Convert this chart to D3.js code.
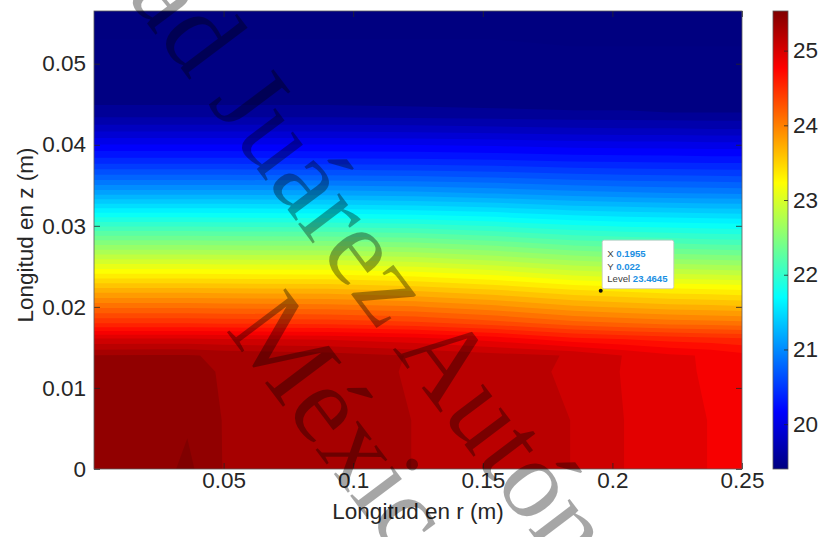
<!DOCTYPE html>
<html>
<head>
<meta charset="utf-8">
<script src="https://cdn.jsdelivr.net/npm/d3@7"></script>
<style>
body { margin: 0; background: #fff; }
svg { display: block; }
text { font-family: "Liberation Sans", Arial, sans-serif; fill: #262626; }
</style>
</head>
<body>
<script>
// grid of the temperature field
var rGrid = [0, 0.025, 0.036, 0.05, 0.09, 0.124, 0.155, 0.185, 0.205, 0.222, 0.238, 0.25];
var zGrid = [0, 0.006, 0.012, 0.014, 0.016, 0.018, 0.020, 0.022, 0.024, 0.026, 0.028,
	0.030, 0.032, 0.034, 0.036, 0.038, 0.040, 0.042, 0.044, 0.047, 0.0565];
// one row per z, one value per r
var temp = [
	[25.47, 25.50, 25.58, 25.42, 25.37, 25.30, 25.24, 25.178, 25.055, 24.99, 24.93, 24.87],
	[25.47, 25.50, 25.53, 25.42, 25.37, 25.30, 25.24, 25.178, 25.055, 24.99, 24.93, 24.87],
	[25.46, 25.48, 25.48, 25.41, 25.36, 25.29, 25.22, 25.165, 25.045, 24.975, 24.915, 24.86],
	[25.43, 25.44, 25.44, 25.40, 25.36, 25.295, 25.23, 25.17, 25.05, 24.96, 24.92, 24.85],
	[25.08, 25.08, 25.08, 25.07, 25.05, 24.99, 24.89, 24.74, 24.69, 24.65, 24.62, 24.60],
	[24.56, 24.56, 24.56, 24.55, 24.53, 24.48, 24.38, 24.25, 24.20, 24.16, 24.14, 24.12],
	[24.17, 24.17, 24.17, 24.16, 24.14, 24.09, 23.99, 23.86, 23.81, 23.77, 23.75, 23.73],
	[23.78, 23.78, 23.78, 23.77, 23.76, 23.70, 23.61, 23.49, 23.44, 23.40, 23.38, 23.36],
	[23.36, 23.36, 23.36, 23.35, 23.34, 23.29, 23.20, 23.07, 23.02, 22.99, 22.97, 22.95],
	[22.95, 22.95, 22.95, 22.94, 22.93, 22.88, 22.79, 22.67, 22.62, 22.59, 22.57, 22.55],
	[22.53, 22.53, 22.53, 22.52, 22.51, 22.47, 22.39, 22.28, 22.24, 22.21, 22.18, 22.17],
	[22.10, 22.10, 22.10, 22.09, 22.08, 22.05, 21.98, 21.89, 21.85, 21.83, 21.81, 21.80],
	[21.66, 21.66, 21.66, 21.66, 21.64, 21.61, 21.56, 21.48, 21.45, 21.43, 21.41, 21.40],
	[21.22, 21.22, 21.22, 21.22, 21.21, 21.18, 21.13, 21.07, 21.04, 21.02, 21.01, 21.00],
	[20.82, 20.82, 20.82, 20.82, 20.81, 20.79, 20.76, 20.71, 20.69, 20.68, 20.67, 20.66],
	[20.46, 20.46, 20.46, 20.46, 20.45, 20.44, 20.42, 20.39, 20.38, 20.37, 20.36, 20.36],
	[20.16, 20.16, 20.16, 20.16, 20.16, 20.15, 20.13, 20.10, 20.09, 20.09, 20.08, 20.08],
	[19.85, 19.85, 19.85, 19.85, 19.85, 19.84, 19.82, 19.80, 19.79, 19.79, 19.78, 19.78],
	[19.58, 19.58, 19.58, 19.58, 19.58, 19.57, 19.56, 19.55, 19.55, 19.54, 19.54, 19.54],
	[19.45, 19.45, 19.45, 19.45, 19.45, 19.45, 19.45, 19.44, 19.44, 19.44, 19.44, 19.44],
	[19.40, 19.40, 19.40, 19.40, 19.40, 19.40, 19.40, 19.40, 19.40, 19.40, 19.40, 19.40]
];
var rTicks = [0.05, 0.1, 0.15, 0.2, 0.25];
var zTicks = [0, 0.01, 0.02, 0.03, 0.04, 0.05];
var cbTicks = [20, 21, 22, 23, 24, 25];
var tempRange = [19.40, 25.53];
var levelStart = 19.4185, levelStep = 0.1226, levelCount = 51;
var tip = {r: 0.1955, z: 0.022, level: "23.4645"};

var width = 822, height = 537;
var svg = d3.select("body").append("svg").attr("width", width).attr("height", height);

var x = d3.scaleLinear().domain([0, 0.25]).range([94, 742]);
var y = d3.scaleLinear().domain([0, 0.0565]).range([469, 11]);

// jet colormap
var jetStops = [0, 0.125, 0.375, 0.625, 0.875, 1];
var jetColors = ["#000080", "#0000ff", "#00ffff", "#ffff00", "#ff0000", "#800000"];
var color = d3.scaleLinear()
	.domain(jetStops.map(function(t) { return tempRange[0] + t * (tempRange[1] - tempRange[0]); }))
	.range(jetColors)
	.clamp(true);

var n = rGrid.length, m = zGrid.length;
var values = [];
temp.forEach(function(row) { row.forEach(function(v) { values.push(v); }); });
var levels = d3.range(levelCount).map(function(k) { return levelStart + k * levelStep; });
var contours = d3.contours().size([n, m]).thresholds(levels)(values);

var rIdx = d3.scaleLinear().domain(d3.range(n)).range(rGrid).clamp(true);
var zIdx = d3.scaleLinear().domain(d3.range(m)).range(zGrid).clamp(true);
var proj = d3.geoTransform({
	point: function(px, py) { this.stream.point(x(rIdx(px - 0.5)), y(zIdx(py - 0.5))); }
});
var path = d3.geoPath(proj);

var plot = svg.append("g");
plot.append("rect")
	.attr("x", x(0)).attr("y", y(0.0565))
	.attr("width", x(0.25) - x(0)).attr("height", y(0) - y(0.0565))
	.attr("fill", color(tempRange[0]));
plot.selectAll("path")
	.data(contours)
	.enter().append("path")
	.attr("d", path)
	.attr("fill", function(d) { return color(d.value); });

// axes, ticks inward on all sides
var fmt = d3.format("~g");
function styleAxis(g) {
	g.select(".domain").remove();
	g.selectAll(".tick line").attr("stroke", "#262626").attr("stroke-width", 0.8);
	g.selectAll(".tick text").attr("fill", "#262626").style("font-size", "22.5px")
		.style("font-family", "'Liberation Sans', Arial, sans-serif");
}
svg.append("g").attr("transform", "translate(0,469)")
	.call(d3.axisBottom(x).tickValues(rTicks).tickFormat(fmt).tickSizeInner(-6).tickSizeOuter(0).tickPadding(3))
	.call(styleAxis);
svg.append("g").attr("transform", "translate(0,11)")
	.call(d3.axisTop(x).tickValues(rTicks).tickFormat("").tickSizeInner(-6).tickSizeOuter(0))
	.call(styleAxis);
svg.append("g").attr("transform", "translate(94,0)")
	.call(d3.axisLeft(y).tickValues(zTicks).tickFormat(fmt).tickSizeInner(-6).tickSizeOuter(0).tickPadding(8))
	.call(styleAxis);
svg.append("g").attr("transform", "translate(742,0)")
	.call(d3.axisRight(y).tickValues(zTicks).tickFormat("").tickSizeInner(-6).tickSizeOuter(0))
	.call(styleAxis);
svg.append("rect")
	.attr("x", 94).attr("y", 11).attr("width", 648).attr("height", 458)
	.attr("fill", "none").attr("stroke", "#5a5a5a").attr("stroke-width", 0.8);

svg.append("text")
	.attr("x", 418).attr("y", 519)
	.attr("text-anchor", "middle")
	.style("font-size", "22.5px")
	.text("Longitud en r (m)");
svg.append("text")
	.attr("transform", "translate(33,235) rotate(-90)")
	.attr("text-anchor", "middle")
	.style("font-size", "22.5px")
	.text("Longitud en z (m)");

// colorbar
var cb = d3.scaleLinear().domain(tempRange).range([469, 11]);
var grad = svg.append("defs").append("linearGradient")
	.attr("id", "jet").attr("x1", 0).attr("y1", 1).attr("x2", 0).attr("y2", 0);
grad.selectAll("stop")
	.data(jetStops)
	.enter().append("stop")
	.attr("offset", function(d) { return d; })
	.attr("stop-color", function(d, i) { return jetColors[i]; });
svg.append("rect")
	.attr("x", 773).attr("y", 11).attr("width", 15).attr("height", 458)
	.attr("fill", "url(#jet)")
	.attr("stroke", "#5a5a5a").attr("stroke-width", 0.8);
svg.append("g").attr("transform", "translate(788,0)")
	.call(d3.axisRight(cb).tickValues(cbTicks).tickFormat(fmt).tickSizeInner(-4).tickSizeOuter(0).tickPadding(5))
	.call(styleAxis);

// data tip
var tx = x(tip.r), ty = y(tip.z);
var dt = svg.append("g");
dt.append("rect")
	.attr("x", tx + 1.5).attr("y", ty - 50.5).attr("width", 71.5).attr("height", 48.5)
	.attr("rx", 2)
	.attr("fill", "#fff").attr("stroke", "#c8c8c8").attr("stroke-width", 0.8);
var tipRows = [["X ", "0.1955"], ["Y ", "0.022"], ["Level ", tip.level]];
dt.selectAll("text.tip")
	.data(tipRows)
	.enter().append("text")
	.attr("class", "tip")
	.attr("x", tx + 6.5)
	.attr("y", function(d, i) { return ty - 33.7 + i * 12.65; })
	.style("font-size", "9.6px")
	.each(function(d) {
		var t = d3.select(this);
		t.append("tspan").attr("fill", "#404040").text(d[0]);
		t.append("tspan").attr("fill", "#1a8fe3").style("font-weight", "bold").text(d[1]);
	});
dt.append("circle").attr("cx", tx).attr("cy", ty).attr("r", 2).attr("fill", "#111");

// watermark
var wm = svg.append("g")
	.attr("transform", "translate(207,103) rotate(53)")
	.style("font-family", "'Liberation Serif', 'Times New Roman', serif")
	.style("font-size", "112px");
wm.append("text").attr("x", -28).attr("y", 0).attr("text-anchor", "end")
	.style("fill", "#000").style("fill-opacity", 0.35).style("font-family", "inherit")
	.text("Universidad");
wm.append("text").attr("x", 0).attr("y", 0)
	.style("fill", "#000").style("fill-opacity", 0.35).style("font-family", "inherit")
	.text("Juárez Autónoma de Tabasco");
wm.append("text").attr("x", 192).attr("y", 122)
	.style("fill", "#000").style("fill-opacity", 0.35).style("font-family", "inherit")
	.text("México");
</script>
</body>
</html>
